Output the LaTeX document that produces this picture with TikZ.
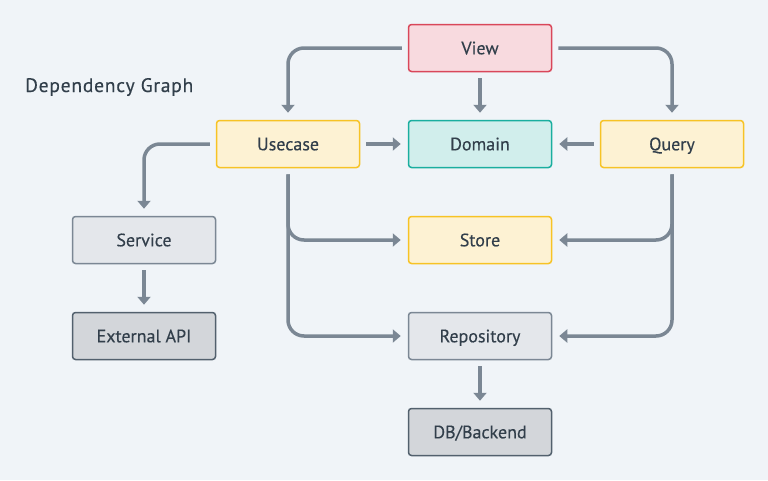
\documentclass[tikz,border=0pt]{standalone}
\usepackage{fontspec}
\setmainfont{PT Sans}[FakeBold=0.35]
\newfontfamily\titlefont{PT Sans}[FakeBold=0.35, LetterSpace=4]
\usetikzlibrary{arrows.meta}
\definecolor{bg}{HTML}{F0F4F8}
\definecolor{txt}{HTML}{323F4B}
\definecolor{arr}{HTML}{7B8794}
\definecolor{viewfill}{HTML}{F8DADF}
\definecolor{viewdraw}{HTML}{D9475A}
\definecolor{domfill}{HTML}{D1EEEC}
\definecolor{domdraw}{HTML}{1AAE9F}
\definecolor{yelfill}{HTML}{FDF2D3}
\definecolor{yeldraw}{HTML}{F7C325}
\definecolor{grayfill}{HTML}{E4E7EB}
\definecolor{graydraw}{HTML}{7B8794}
\definecolor{darkfill}{HTML}{D3D6DA}
\definecolor{darkdraw}{HTML}{52606D}
\begin{document}
\begin{tikzpicture}[x=1pt,y=-1pt,
  box/.style={line width=1.5pt, rounded corners=3pt, minimum width=143pt, minimum height=47pt, inner sep=0pt, text height=12.6pt, text depth=0pt, text=txt, font=\fontsize{18}{21}\selectfont},
  viewbox/.style={box, draw=viewdraw, fill=viewfill},
  dombox/.style={box, draw=domdraw, fill=domfill},
  yelbox/.style={box, draw=yeldraw, fill=yelfill},
  graybox/.style={box, draw=graydraw, fill=grayfill},
  darkbox/.style={box, draw=darkdraw, fill=darkfill},
  conn/.style={draw=arr, line width=3.5pt, -{Triangle[length=8pt,width=13pt]}, shorten >=7pt, shorten <=6pt, rounded corners=16pt}]
\fill[bg] (0,0) rectangle (768,480);
\useasboundingbox (0,0) rectangle (768,480);
\node[anchor=base west, inner sep=0pt, text=txt, font=\titlefont\fontsize{19.5}{23}\selectfont] (title) at (25,92) {Dependency Graph};
\node[viewbox] (view) at (480,48) {View};
\node[yelbox] (usecase) at (288,144) {Usecase};
\node[dombox] (domain) at (480,144) {Domain};
\node[yelbox] (query) at (672,144) {Query};
\node[graybox] (service) at (144,240) {Service};
\node[darkbox] (ext) at (144,336) {External API};
\node[yelbox] (store) at (480,240) {Store};
\node[graybox] (repo) at (480,336) {Repository};
\node[darkbox] (db) at (480,432) {DB/Backend};
\draw[conn] (view.west) -| (usecase.north);
\draw[conn] (view.south) -- (domain.north);
\draw[conn] (view.east) -| (query.north);
\draw[conn] (usecase.east) -- (domain.west);
\draw[conn] (query.west) -- (domain.east);
\draw[conn] (usecase.west) -| (service.north);
\draw[conn] (service.south) -- (ext.north);
\draw[conn] (usecase.south) |- (store.west);
\draw[conn] (usecase.south) |- (repo.west);
\draw[conn] (query.south) |- (store.east);
\draw[conn] (query.south) |- (repo.east);
\draw[conn] (repo.south) -- (db.north);
\end{tikzpicture}
\end{document}
